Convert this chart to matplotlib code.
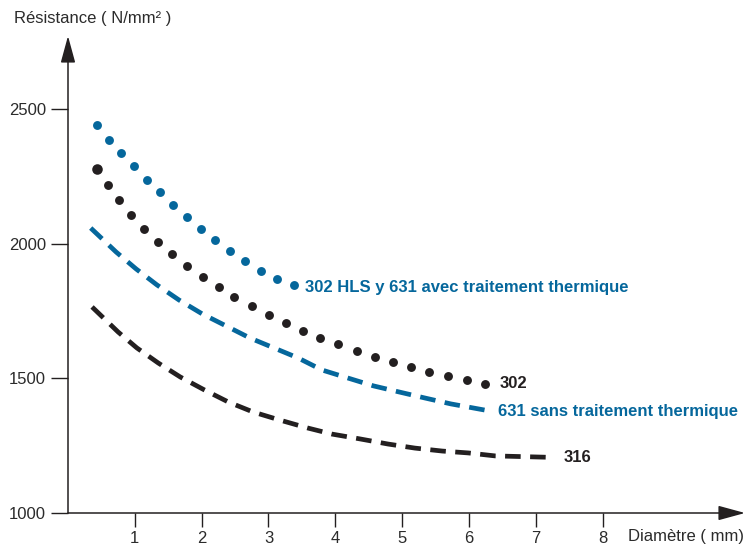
import matplotlib
matplotlib.use("Agg")
import matplotlib.pyplot as plt

plt.rcParams['font.family'] = ['Liberation Sans Narrow', 'Liberation Sans', 'DejaVu Sans']

BLUE = '#05679c'
BLACK = '#231f20'
GREY = '#2b2b2b'

# 302 HLS y 631 avec traitement thermique (dots)
hls_x = [0.43, 0.61, 0.79, 0.99, 1.18, 1.38, 1.57, 1.78, 1.99, 2.20, 2.43, 2.65, 2.89, 3.13, 3.38]
hls_y = [2441, 2385, 2337, 2289, 2237, 2192, 2144, 2099, 2055, 2014, 1973, 1936, 1899, 1869, 1847]

# 302 (dots)
s302_x = [0.43, 0.60, 0.76, 0.94, 1.14, 1.35, 1.56, 1.78, 2.02, 2.26, 2.49, 2.75, 3.01,
          3.26, 3.52, 3.77, 4.04, 4.33, 4.60, 4.87, 5.13, 5.40, 5.69, 5.97, 6.24]
s302_y = [2277, 2218, 2162, 2107, 2055, 2006, 1962, 1917, 1876, 1839, 1802, 1769, 1735,
          1706, 1676, 1650, 1628, 1602, 1579, 1561, 1542, 1524, 1509, 1494, 1479]

# 631 sans traitement thermique (dashed)
s631_x = [0.34, 0.72, 1.02, 1.33, 1.66, 2.01, 2.37, 2.72, 3.08, 3.44, 3.80, 4.19, 4.57, 4.96, 5.34, 5.73, 6.24]
s631_y = [2058, 1969, 1906, 1847, 1791, 1739, 1694, 1650, 1613, 1576, 1531, 1501, 1472, 1449, 1427, 1405, 1382]

# 316 (dashed)
s316_x = [0.36, 0.75, 1.03, 1.35, 1.68, 2.04, 2.40, 2.77, 3.17, 3.58, 3.95, 4.37, 4.79, 5.19, 5.60, 5.99, 6.39, 7.17]
s316_y = [1765, 1672, 1613, 1557, 1505, 1457, 1412, 1375, 1345, 1316, 1293, 1275, 1256, 1241, 1230, 1223, 1212, 1207]

x_ticks = [1, 2, 3, 4, 5, 6, 7, 8]
y_ticks = [1000, 1500, 2000, 2500]

fig = plt.figure(figsize=(7.46, 5.46), dpi=100)
ax = fig.add_axes([68 / 746, 33 / 546, 677 / 746, 477 / 546])
ax.set_xlim(0, 10.13)
ax.set_ylim(1000, 2771)

# dashed curves
l1, = ax.plot(s631_x, s631_y, color=BLUE, lw=3.4, dash_capstyle='butt')
l1.set_dashes((3.3, 2.0))
l2, = ax.plot(s316_x, s316_y, color=BLACK, lw=3.4, dash_capstyle='butt')
l2.set_dashes((3.3, 2.0))

# dotted curves
ax.plot(hls_x, hls_y, 'o', color=BLUE, ms=6.4, mec='none')
ax.plot(s302_x, s302_y, 'o', color=BLACK, ms=6.4, mec='none')
ax.plot(s302_x[0], s302_y[0], 'o', color=BLACK, ms=7.6, mec='none')

# curve labels
lab = dict(fontsize=12, fontweight='bold', va='center', ha='left')
ax.text(hls_x[-1] + 0.16, hls_y[-1] - 8, '302 HLS y 631 avec traitement thermique', color=BLUE, **lab)
ax.text(s302_x[-1] + 0.22, s302_y[-1], '302', color=BLACK, **lab)
ax.text(s631_x[-1] + 0.2, s631_y[-1] - 5, '631 sans traitement thermique', color=BLUE, **lab)
ax.text(s316_x[-1] + 0.25, s316_y[-1] - 2, '316', color=BLACK, **lab)

# axes with arrows
for s in ax.spines.values():
    s.set_visible(False)
arrow = dict(arrowstyle='-|>,head_length=1.65,head_width=0.45', color=BLACK,
             lw=1.1, mutation_scale=10, shrinkA=0, shrinkB=0)
ax.annotate('', xy=(0, 1), xytext=(0, 0), xycoords='axes fraction', arrowprops=arrow)
ax.annotate('', xy=(1, 0), xytext=(0, 0), xycoords='axes fraction', arrowprops=arrow)

ax.set_xticks(x_ticks)
ax.set_yticks(y_ticks)
ax.set_xticklabels([str(t) for t in x_ticks])
ax.set_yticklabels([str(t) for t in y_ticks])
ax.tick_params(axis='x', direction='out', length=10, width=1, color=BLACK,
               labelsize=12, labelcolor=GREY, pad=3)
ax.tick_params(axis='y', direction='out', length=12, width=1, color=BLACK,
               labelsize=12, labelcolor=GREY, pad=4)

fig.text(14 / 746, 1 - 18 / 546, 'Résistance ( N/mm² )', fontsize=12, color=GREY,
         va='center', ha='left')
fig.text(744 / 746, 1 - 537 / 546, 'Diamètre ( mm)', fontsize=12, color=GREY,
         va='center', ha='right')

fig.savefig('out.png', dpi=100)
